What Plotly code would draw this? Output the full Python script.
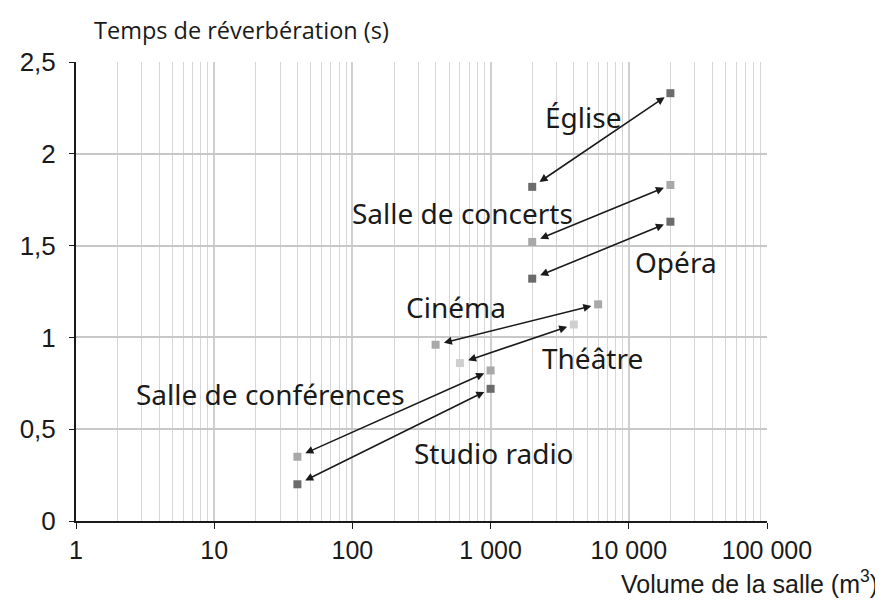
import math
import plotly.graph_objects as go

# ---- data ----
rooms = ["Église", "Salle de concerts", "Opéra", "Cinéma", "Théâtre",
         "Salle de conférences", "Studio radio"]
vol_min = [2000, 2000, 2000, 400, 600, 40, 40]
vol_max = [20000, 20000, 20000, 6000, 4000, 1000, 1000]
t_min = [1.82, 1.52, 1.32, 0.96, 0.86, 0.35, 0.20]
t_max = [2.33, 1.83, 1.63, 1.18, 1.07, 0.82, 0.72]
marker_colors = ["#6b6b6b", "#a8a8a8", "#6b6b6b", "#a8a8a8", "#cfcfcf", "#a8a8a8", "#6b6b6b"]

# label anchor positions (log10 volume, time)
label_lx = [3.667, 2.80, 4.34, 2.75, 3.734, 1.406, 3.025]
label_y = [2.20, 1.68, 1.41, 1.165, 0.886, 0.69, 0.37]

x_tickvals = [1, 10, 100, 1000, 10000, 100000]
x_ticktext = ["1", "10", "100", "1 000", "10 000", "100 000"]
y_tickvals = [0, 0.5, 1, 1.5, 2, 2.5]
y_ticktext = ["0", "0,5", "1", "1,5", "2", "2,5"]

fig = go.Figure()

for i, name in enumerate(rooms):
    fig.add_trace(go.Scatter(
        x=[vol_min[i], vol_max[i]], y=[t_min[i], t_max[i]],
        mode="markers", name=name, showlegend=False,
        marker=dict(symbol="square", size=8, color=marker_colors[i]),
    ))
    fig.add_annotation(
        x=math.log10(vol_max[i]), y=t_max[i],
        ax=math.log10(vol_min[i]), ay=t_min[i],
        xref="x", yref="y", axref="x", ayref="y",
        text="", showarrow=True, arrowside="end+start",
        arrowhead=2, arrowsize=1, arrowwidth=1.6, arrowcolor="#1a1a1a",
        standoff=7, startstandoff=7,
    )
    fig.add_annotation(
        x=label_lx[i], y=label_y[i], xref="x", yref="y",
        text=name, showarrow=False,
        font=dict(family="Noto Sans, sans-serif", size=28, color="#1a1a1a"),
    )

fig.add_annotation(
    x=0.023, y=1.07, xref="paper", yref="paper", xanchor="left", yanchor="middle",
    text="Temps de réverbération (s)", showarrow=False,
    font=dict(family="Open Sans, Noto Sans, sans-serif", size=23.5, color="#1a1a1a"),
)
fig.add_annotation(
    x=1.1635, y=-0.133, xref="paper", yref="paper", xanchor="right", yanchor="middle",
    text="Volume de la salle (m<sup>3</sup>)", showarrow=False,
    font=dict(family="Liberation Sans, Arial, sans-serif", size=25, color="#1a1a1a"),
)

fig.update_xaxes(
    type="log", range=[0, 5],
    tickvals=x_tickvals, ticktext=x_ticktext,
    tickfont=dict(family="Liberation Sans, Arial, sans-serif", size=25, color="#1a1a1a"),
    showline=True, linecolor="#1a1a1a", linewidth=2,
    ticks="outside", ticklen=6, tickcolor="#1a1a1a",
    showgrid=True, gridcolor="#cfcfcf", gridwidth=1.5,
    minor=dict(dtick="D1", showgrid=True, gridcolor="#d6d6d6", gridwidth=1.2),
    zeroline=False,
)
fig.update_yaxes(
    range=[0, 2.5],
    tickvals=y_tickvals, ticktext=y_ticktext,
    tickfont=dict(family="Liberation Sans, Arial, sans-serif", size=26, color="#1a1a1a"),
    showline=True, linecolor="#1a1a1a", linewidth=2,
    ticks="outside", ticklen=5, tickcolor="#1a1a1a", ticklabelstandoff=8,
    showgrid=True, gridcolor="#c8c8c8", gridwidth=1.5,
    zeroline=False,
)

fig.update_layout(
    width=875, height=595,
    margin=dict(l=68, r=116, t=54, b=82),
    paper_bgcolor="white", plot_bgcolor="white",
)

fig.write_html("out.html")
